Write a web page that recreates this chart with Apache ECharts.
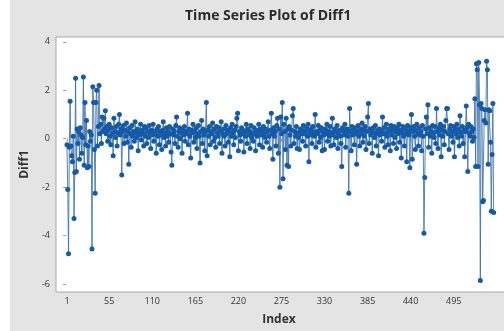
<!DOCTYPE html>
<html>
<head>
<meta charset="utf-8">
<script src="https://cdn.jsdelivr.net/npm/echarts@6/dist/echarts.min.js"></script>
<style>
  html, body { margin: 0; padding: 0; background: #fff; }
  #chart { width: 504px; height: 331px; }
</style>
</head>
<body>
<div id="chart"></div>
<script>
// Diff1 values, index 1..546
const diff1 = [
  -0.25, -2.1, -4.75, -0.35, 1.55, -0.3, -0.7, -0.95, 0.1, -3.3,
  -1.4, 2.5, -1.35, 0.4, -0.2, 0.3, -0.85, 0.45, 0.15, -0.6,
  0.05, 2.55, -1.1, 1.5, -0.25, 0.75, -1.2, -0.3, -1.15, 0.3,
  -0.1, 0.15, -4.55, 2.15, 1.5, -0.45, -2.25, 1.5, 2.0, -0.3,
  0.5, 2.2, 0.2, 0.6, -0.2, 0.9, 0.3, 0.85, 0.4, 1.15,

  0.2, 0.5, -0.1, 0.35, 0.6, 0.1, -0.25, 0.45, 0.2, -0.7,
  0.85, 0.3, 0.05, 0.5, -0.3, 0.25, 0.6, 1.0, 0.15, 0.4,
  -1.5, 0.3, 0.55, -0.2, 0.35, 0.1, 0.65, -0.15, 0.3, -1.05,
  0.45, 0.2, -0.35, 0.55, 0.1, 0.3, -0.1, 0.7, 0.25, 0.05,
  0.4, -0.5, 0.3, 0.15, 0.6, -0.05, 0.35, 0.2, -0.3, 0.5,

  0.1, 0.45, -0.2, 0.3, 0.05, 0.55, 0.25, -0.4, 0.35, 0.15,
  0.6, -0.1, 0.3, 0.2, -0.6, 0.4, 0.1, 0.5, -0.25, 0.3,
  0.15, -0.45, 0.35, 0.7, 0.05, 0.25, -0.3, 0.45, 0.1, 0.3,
  -0.15, 0.5, 0.2, -0.55, -1.1, 0.4, 0.15, 0.3, -0.2, 0.55,
  0.9, 0.1, -0.35, 0.3, 0.45, 0.0, 0.25, -0.6, 0.35, 0.15,

  0.5, -0.1, 0.3, 0.2, 1.05, -0.25, 0.4, 0.1, -0.8, 0.35,
  0.25, 0.6, -0.15, 0.3, 0.05, 0.45, -0.4, 0.2, 0.55, 0.1,
  -1.0, 0.3, 0.75, -0.2, 0.4, 0.15, -0.5, 0.3, 1.5, -0.7,
  0.35, 0.1, 0.5, -0.25, 0.3, 0.2, 0.65, -0.1, 0.4, 0.05,
  -0.35, 0.5, 0.25, 0.1, 0.45, -0.2, 0.3, 0.7, -0.6, 0.2,

  0.4, 0.1, -0.3, 0.55, 0.2, 0.35, -0.15, 0.3, -0.75, 0.45,
  0.1, 0.6, 0.25, -0.25, 0.35, 0.05, 0.5, 0.85, 1.05, -0.5,
  0.3, 0.15, -0.1, 0.45, 0.2, 0.35, -0.55, 0.3, 0.1, 0.6,
  -0.2, 0.4, 0.15, 0.3, -0.4, 0.55, 0.05, 0.25, -0.1, 0.45,
  0.2, -0.5, 0.35, 0.1, 0.3, 0.6, -0.25, 0.4, 0.15, 0.3,

  -0.35, 0.5, 0.2, 0.05, 0.4, -0.15, 0.3, 0.7, 0.1, -0.4,
  0.35, 1.05, 0.2, -0.85, 0.45, 0.1, 0.3, -0.3, 0.55, 0.85,
  -0.6, 0.4, -2.0, 0.9, 0.2, 1.5, -1.65, 0.6, 0.3, -0.45,
  0.85, -1.1, 0.4, -1.15, 0.5, 0.15, -0.3, 0.35, 0.95, 1.25,
  -0.2, 0.3, 0.1, 0.5, -0.4, 0.25, 0.05, -0.45, 0.4, 0.2,

  0.35, -0.1, 0.55, 0.2, 0.3, -0.3, 0.45, 0.1, 0.6, -0.95,
  0.3, 0.15, 0.4, -0.2, 0.5, 0.25, 0.1, 1.0, -0.35, 0.3,
  0.2, 0.55, -0.15, 0.35, 0.05, 0.45, -0.5, 0.3, 0.15, -0.45,
  0.4, 0.2, 0.6, -0.1, 0.3, 0.1, 0.5, -0.3, 0.25, 0.85,
  0.15, -0.25, 0.4, 0.3, 0.05, 0.55, -0.4, 0.2, 0.35, 0.1,

  -0.2, -1.15, 0.45, 0.3, 0.15, 0.6, -0.35, 0.25, 0.4, 0.1,
  -2.25, 1.25, 0.3, -0.5, 0.5, 0.15, 0.35, -0.25, 0.45, 0.2,
  -1.05, 0.3, 0.55, 0.1, -0.3, 0.4, 0.2, 0.65, -0.15, 0.35,
  0.1, 0.5, -0.45, 0.3, 0.9, 1.45, -0.2, 0.4, 0.15, 0.3,
  -0.6, 0.45, 0.25, 0.05, 0.55, -0.3, 0.2, 0.35, -0.7, 0.4,

  0.15, 0.3, -0.1, 0.9, 0.2, 0.45, -0.35, 0.25, 0.6, 0.1,
  -0.25, 0.4, 0.3, -0.5, 0.55, 0.15, 0.35, -0.2, 0.5, 0.05,
  0.3, -0.4, 0.45, 0.2, 0.6, -0.15, 0.35, -0.8, 0.25, 0.5,
  0.1, -0.3, 0.4, 0.2, -0.95, 0.55, 0.3, 0.15, -1.2, 0.45,
  1.0, -0.85, 0.3, 0.5, 0.1, -0.45, 0.35, 0.6, 0.2, -0.3,

  0.45, 0.15, 0.3, -0.5, 0.55, 0.1, -3.9, -1.6, 0.4, 0.9,
  0.2, 1.4, -0.35, 0.45, 0.1, 0.3, -0.6, 0.55, 0.25, 0.05,
  0.5, -0.2, 1.25, 0.3, -0.4, 0.45, 0.15, 0.6, -0.75, 0.35,
  0.1, 0.5, -0.25, 0.3, 0.75, 1.25, 1.25, 0.2, -0.45, 0.4,
  0.55, 0.1, 0.3, -0.15, 0.5, -0.75, 0.35, 0.2, 0.6, 0.05,

  0.4, -0.3, 0.95, 0.25, 0.1, 0.5, -0.2, 0.35, -0.75, 0.3,
  1.35, 0.45, -1.35, 0.6, 0.2, 0.1, 0.5, 0.3, -0.1, 0.4,
  0.05, 1.65, -1.15, 3.1, 2.85, -1.15, 3.15, 1.4, -5.85, 1.45,
  1.25, -2.6, -2.55, 0.75, 1.2, 0.65, 3.2, 2.85, -1.05, 1.2,
  1.15, -0.15, -3.0, -0.65, 1.45, -3.05
];

const xTicks = [1, 55, 110, 165, 220, 275, 330, 385, 440, 495];
const yTicks = [-6, -4, -2, 0, 2, 4];

const chart = echarts.init(document.getElementById("chart"));

const points = diff1.map((v, i) => [i + 1, v]);
const font = "'Open Sans', 'Noto Sans', sans-serif";

chart.setOption({
  backgroundColor: "#e4e4e4",
  animation: false,
  title: {
    text: "Time Series Plot of Diff1",
    left: 180,
    top: 4,
    textStyle: { fontFamily: font, fontSize: 14, fontWeight: "bold", color: "#2b2b2b" },
  },
  graphic: [
    // white strip at the left of the picture
    { type: "rect", left: 0, top: 0, shape: { width: 10, height: 331 }, style: { fill: "#fff" } },
  ],
  grid: {
    left: 56,
    top: 37,
    right: -10,
    bottom: 39,
    outerBoundsMode: "none",
    show: true,
    backgroundColor: "#fff",
    borderColor: "#a8a8a8",
    borderWidth: 1,
  },
  xAxis: {
    type: "value",
    min: -13,
    max: 572,
    name: "Index",
    nameLocation: "middle",
    nameGap: 22,
    nameTextStyle: { fontFamily: font, fontSize: 12, fontWeight: "bold", color: "#333", padding: [0, 12, 0, 0] },
    axisLine: { show: false },
    axisTick: { show: true, customValues: xTicks, length: 3, lineStyle: { color: "#999" } },
    axisLabel: { customValues: xTicks, fontFamily: font, fontSize: 9, color: "#333", margin: 5 },
    splitLine: { show: false },
  },
  yAxis: {
    type: "value",
    min: -6.33,
    max: 4.2,
    name: "Diff1",
    nameLocation: "middle",
    nameGap: 22,
    nameTextStyle: { fontFamily: font, fontSize: 12, fontWeight: "bold", color: "#333" },
    axisLine: { show: false },
    axisTick: { show: true, customValues: yTicks, length: 3, lineStyle: { color: "#999" } },
    axisLabel: { customValues: yTicks, fontFamily: font, fontSize: 9, color: "#333", margin: 6 },
    splitLine: { show: false },
  },
  series: [
    {
      name: "Diff1",
      type: "line",
      data: points,
      symbol: "circle",
      symbolSize: 5,
      showAllSymbol: true,
      itemStyle: { color: "#145aa6" },
      lineStyle: { color: "#3a6ea8", width: 1, opacity: 0.85 },
    },
  ],
});
</script>
</body>
</html>
